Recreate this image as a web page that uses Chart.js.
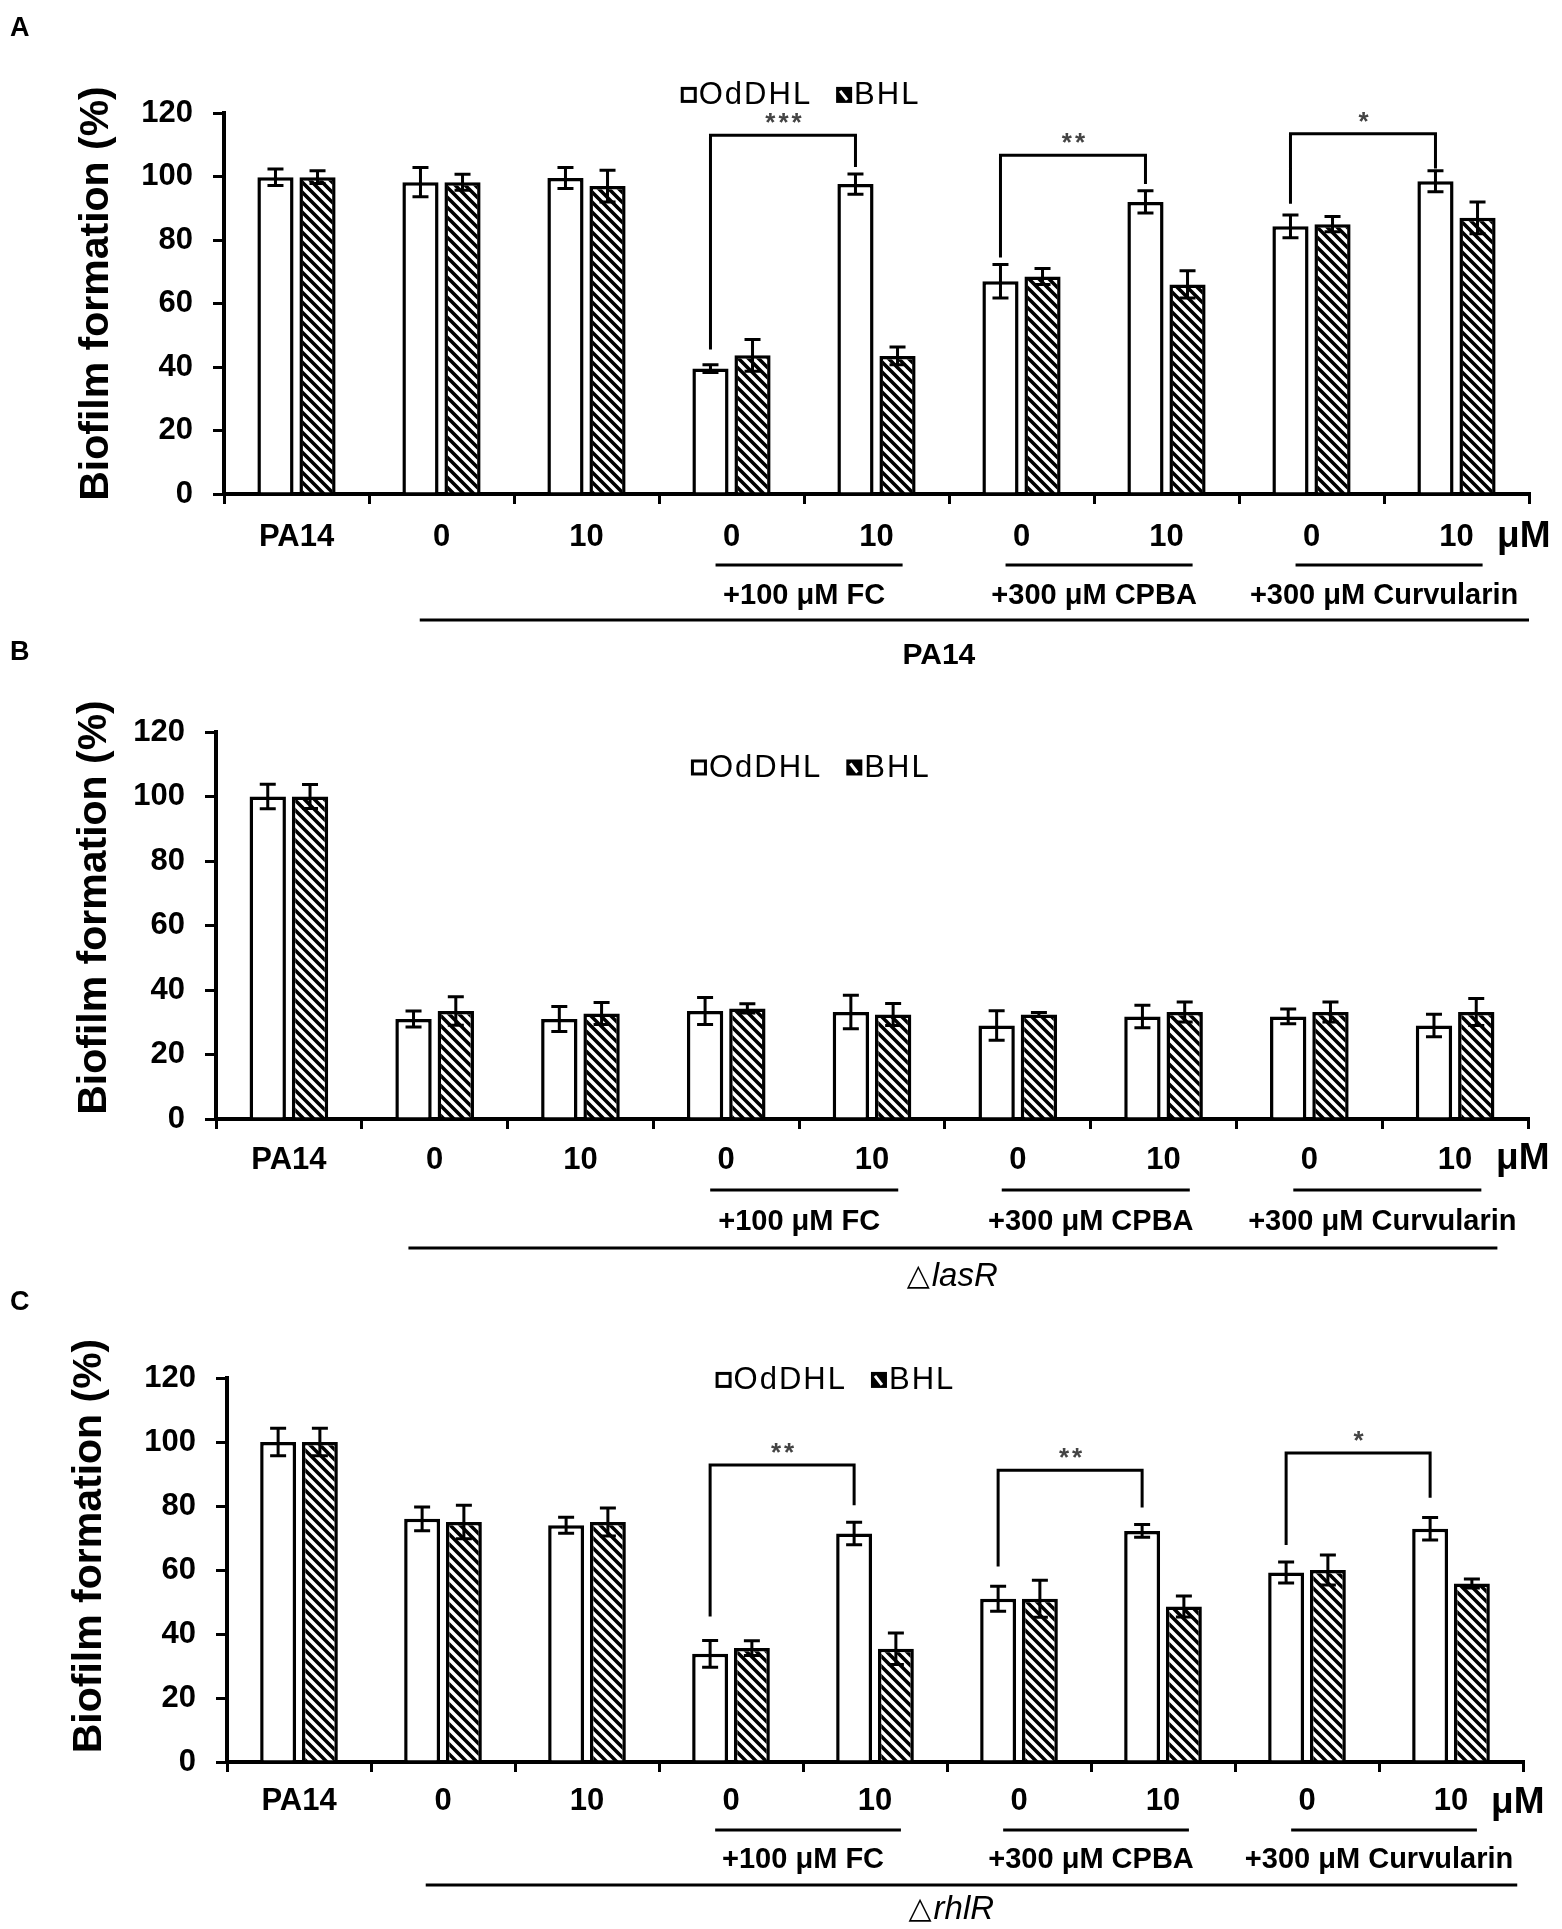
<!DOCTYPE html>
<html>
<head>
<meta charset="utf-8">
<script src="https://cdn.jsdelivr.net/npm/chart.js@4.4.1/dist/chart.umd.min.js"></script>
<style>
  body { margin: 0; background: #fff; }
  #wrap { position: relative; width: 1562px; height: 1929px; }
  .panel { position: absolute; left: 0; width: 1562px; }
</style>
</head>
<body>
<div id="wrap">
  <div class="panel" style="top:0px;height:690px"><canvas id="chartA"></canvas></div>
  <div class="panel" style="top:625px;height:675px"><canvas id="chartB"></canvas></div>
  <div class="panel" style="top:1265px;height:664px"><canvas id="chartC"></canvas></div>
</div>
<script>
// ---- data ----
const categories = ['PA14', '0', '10', '0', '10', '0', '10', '0', '10'];
const seriesNames = ['OdDHL', 'BHL'];

// A: PA14
const aOdDHL    = [99.8, 98.2, 99.5, 39.5, 97.6, 67.0, 92.0, 84.3, 98.5];
const aOdDHLErr = [2.6, 4.6, 3.3, 1.2, 3.2, 5.3, 3.5, 3.6, 3.3];
const aBHL      = [99.8, 98.2, 97.0, 43.7, 43.5, 68.5, 66.0, 85.0, 87.0];
const aBHLErr   = [2.0, 2.5, 5.0, 5.0, 2.8, 2.5, 4.3, 2.4, 5.0];

// B: delta lasR
const bOdDHL    = [100, 31.0, 31.0, 33.5, 33.2, 29.0, 31.8, 31.8, 29.0];
const bOdDHLErr = [3.8, 2.5, 3.9, 4.2, 5.2, 4.6, 3.5, 2.3, 3.5];
const bBHL      = [100, 33.5, 32.7, 34.3, 32.4, 32.4, 33.2, 33.2, 33.2];
const bBHLErr   = [3.7, 4.4, 3.4, 1.4, 3.4, 0.6, 3.1, 3.1, 4.2];

// C: delta rhlR
const cOdDHL    = [100, 76.0, 74.0, 33.8, 71.4, 51.0, 72.2, 59.2, 72.9];
const cOdDHLErr = [4.3, 3.7, 2.5, 4.2, 3.5, 3.9, 2.0, 3.3, 3.5];
const cBHL      = [100, 75.0, 75.0, 35.6, 35.4, 51.0, 48.6, 60.0, 55.8];
const cBHLErr   = [4.3, 5.2, 4.4, 2.3, 4.9, 5.8, 3.3, 4.7, 1.4];

// significance brackets: [from, to, bracket level, left end, right end, label]
const aSig = [[3, 4, 113, 45.5, 103, '***'], [5, 6, 106.7, 74.5, 97.6, '**'], [7, 8, 113.5, 91.4, 102.5, '*']];
const bSig = [];
const cSig = [[3, 4, 92.8, 45.5, 80.2, '**'], [5, 6, 91.2, 61.1, 79.5, '**'], [7, 8, 96.6, 67.8, 82.6, '*']];

const groupSpans  = [[3, 4], [5, 6], [7, 8]];
const groupLabels = ['+100 \u03BCM FC', '+300 \u03BCM CPBA', '+300 \u03BCM Curvularin'];
const yTicks = [0, 20, 40, 60, 80, 100, 120];

const FONT = "'Liberation Sans', Arial, Helvetica, sans-serif";

// layout of the three panels (pixels inside each canvas)
const panels = [
  { id: 'chartA', letter: 'A', letterY: 36, height: 690, axisLeft: 224, plotTop: 113, plotBottom: 494, plotRight: 1529,
    od: aOdDHL, odErr: aOdDHLErr, bh: aBHL, bhErr: aBHLErr, sig: aSig,
    strain: 'PA14', italic: false, tickPad: 15, legendFx: 0.35, legendV: 125.7,
    off: { sub: 71, subLabel: 102, long: 126, title: 162, unit: 43 }, longSpan: [0.85, 8.5], titleIdx: 4.43,
    yTitleX: 108, yTitleShift: -10 },
  { id: 'chartB', letter: 'B', letterY: 35, height: 675, axisLeft: 216, plotTop: 107, plotBottom: 494, plotRight: 1528,
    od: bOdDHL, odErr: bOdDHLErr, bh: bBHL, bhErr: bBHLErr, sig: bSig,
    strain: 'lasR', italic: true, tickPad: 13, legendFx: 0.362, legendV: 109,
    off: { sub: 71, subLabel: 103, long: 129, title: 158, unit: 40 }, longSpan: [0.82, 8.29], titleIdx: 4.55,
    yTitleX: 106, yTitleShift: -18 },
  { id: 'chartC', letter: 'C', letterY: 45, height: 664, axisLeft: 227, plotTop: 113, plotBottom: 497, plotRight: 1523,
    od: cOdDHL, odErr: cOdDHLErr, bh: cBHL, bhErr: cBHLErr, sig: cSig,
    strain: 'rhlR', italic: true, tickPad: 11, legendFx: 0.377, legendV: 119.4,
    off: { sub: 68, subLabel: 98, long: 123, title: 148, unit: 41 }, longSpan: [0.88, 8.46], titleIdx: 4.53,
    yTitleX: 101, yTitleShift: -24 }
];

function makeHatch(ctx) {
  const tile = document.createElement('canvas');
  tile.width = 10; tile.height = 10;
  const g = tile.getContext('2d');
  g.fillStyle = '#fff';
  g.fillRect(0, 0, 10, 10);
  g.strokeStyle = '#000';
  g.lineWidth = 3.6;
  g.beginPath();
  for (let k = -1; k <= 1; k++) {
    g.moveTo(k * 10 - 2, -2);
    g.lineTo(k * 10 + 12, 12);
  }
  g.stroke();
  return ctx.createPattern(tile, 'repeat');
}

function makeDecor(P) {
  return {
    id: 'decor' + P.letter,
    afterDatasetsDraw(chart) {
      // error bars
      const ctx = chart.ctx, ys = chart.scales.y;
      ctx.save();
      ctx.strokeStyle = '#000';
      ctx.lineWidth = 3;
      chart.data.datasets.forEach((ds, di) => {
        chart.getDatasetMeta(di).data.forEach((bar, i) => {
          const v = ds.data[i], e = ds.errors[i];
          const yt = ys.getPixelForValue(v + e), yb = ys.getPixelForValue(v - e);
          ctx.beginPath();
          ctx.moveTo(bar.x, yt); ctx.lineTo(bar.x, yb);
          ctx.moveTo(bar.x - 8, yt); ctx.lineTo(bar.x + 8, yt);
          ctx.moveTo(bar.x - 8, yb); ctx.lineTo(bar.x + 8, yb);
          ctx.stroke();
        });
      });
      ctx.restore();
    },
    afterDraw(chart) {
      const ctx = chart.ctx, xs = chart.scales.x, ys = chart.scales.y, ca = chart.chartArea;
      const y0 = ys.getPixelForValue(0);
      const barX = (di, i) => chart.getDatasetMeta(di).data[i].x;
      ctx.save();
      ctx.strokeStyle = '#000';
      ctx.fillStyle = '#000';
      ctx.lineWidth = 3;
      ctx.lineJoin = 'miter';

      // significance brackets
      P.sig.forEach(([a, b, lvl, ya, yb, lab]) => {
        const x1 = barX(0, a), x2 = barX(0, b), yl = ys.getPixelForValue(lvl);
        ctx.beginPath();
        ctx.moveTo(x1, ys.getPixelForValue(ya));
        ctx.lineTo(x1, yl);
        ctx.lineTo(x2, yl);
        ctx.lineTo(x2, ys.getPixelForValue(yb));
        ctx.stroke();
        ctx.save();
        ctx.fillStyle = '#444';
        ctx.font = 'bold 26px ' + FONT;
        ctx.letterSpacing = '3px';
        ctx.textAlign = 'center';
        ctx.textBaseline = 'middle';
        ctx.fillText(lab, (x1 + x2) / 2 + 2, yl - 11);
        ctx.restore();
      });

      // legend
      const lx = ca.left + P.legendFx * (ca.right - ca.left);
      const ly = ys.getPixelForValue(P.legendV);
      ctx.font = '31px ' + FONT;
      ctx.letterSpacing = '2px';
      ctx.textBaseline = 'middle';
      ctx.textAlign = 'left';
      ctx.lineWidth = 3;
      ctx.fillStyle = '#fff';
      ctx.fillRect(lx, ly - 8, 16, 16);
      ctx.strokeRect(lx + 1.5, ly - 6.5, 13, 13);
      ctx.fillStyle = '#000';
      ctx.fillText(seriesNames[0], lx + 18, ly + 1);
      const bx = lx + 18 + ctx.measureText(seriesNames[0]).width + 24;
      ctx.fillRect(bx, ly - 8, 16, 16);
      ctx.strokeStyle = '#fff';
      ctx.lineWidth = 3;
      ctx.beginPath();
      ctx.moveTo(bx + 4, ly - 4); ctx.lineTo(bx + 11, ly + 5);
      ctx.stroke();
      ctx.strokeStyle = '#000';
      ctx.fillText(seriesNames[1], bx + 18, ly + 1);
      ctx.letterSpacing = '0px';

      // treatment underlines and labels
      ctx.lineWidth = 3;
      groupSpans.forEach(([a, b], k) => {
        const xa = xs.getPixelForValue(a - 0.11), xb = xs.getPixelForValue(b + 0.18);
        ctx.beginPath();
        ctx.moveTo(xa, y0 + P.off.sub); ctx.lineTo(xb, y0 + P.off.sub);
        ctx.stroke();
        ctx.font = 'bold 29px ' + FONT;
        ctx.textAlign = 'center';
        ctx.fillText(groupLabels[k], (xa + xb) / 2 - 5, y0 + P.off.subLabel);
      });

      // strain underline and name
      ctx.beginPath();
      ctx.moveTo(xs.getPixelForValue(P.longSpan[0]), y0 + P.off.long);
      ctx.lineTo(xs.getPixelForValue(P.longSpan[1]), y0 + P.off.long);
      ctx.stroke();
      const tx = xs.getPixelForValue(P.titleIdx), ty = y0 + P.off.title;
      if (P.italic) {
        ctx.font = "30px 'DejaVu Sans', sans-serif";
        const w1 = ctx.measureText('\u25B3').width;
        ctx.font = 'italic 33px ' + FONT;
        const w2 = ctx.measureText(P.strain).width;
        const sx = tx - (w1 + w2 + 2) / 2;
        ctx.textAlign = 'left';
        ctx.font = "30px 'DejaVu Sans', sans-serif";
        ctx.fillText('\u25B3', sx, ty);
        ctx.font = 'italic 33px ' + FONT;
        ctx.fillText(P.strain, sx + w1 + 2, ty);
      } else {
        ctx.font = 'bold 30px ' + FONT;
        ctx.textAlign = 'center';
        ctx.fillText(P.strain, tx, ty);
      }

      // unit at the right end of the axis
      ctx.font = 'bold 37px ' + FONT;
      ctx.textAlign = 'left';
      ctx.fillText('\u03BCM', ca.right - 32, y0 + P.off.unit);

      // panel letter
      ctx.font = 'bold 27px ' + FONT;
      ctx.textBaseline = 'alphabetic';
      ctx.fillText(P.letter, 10, P.letterY);

      // y axis title
      ctx.translate(P.yTitleX, (ca.top + ca.bottom) / 2 + P.yTitleShift);
      ctx.rotate(-Math.PI / 2);
      ctx.font = 'bold 41px ' + FONT;
      ctx.textAlign = 'center';
      ctx.fillText('Biofilm formation (%)', 0, 0);
      ctx.restore();
    }
  };
}

function drawPanel(P) {
  const canvas = document.getElementById(P.id);
  const hatch = makeHatch(canvas.getContext('2d'));
  new Chart(canvas, {
    type: 'bar',
    data: {
      labels: categories,
      datasets: [{
        label: seriesNames[0],
        data: P.od,
        errors: P.odErr,
        backgroundColor: '#fff',
        borderColor: '#000',
        borderWidth: 3.5
      }, {
        label: seriesNames[1],
        data: P.bh,
        errors: P.bhErr,
        backgroundColor: hatch,
        borderColor: '#000',
        borderWidth: 3.5
      }]
    },
    options: {
      responsive: true,
      maintainAspectRatio: false,
      animation: false,
      events: [],
      categoryPercentage: 0.58,
      barPercentage: 0.86,
      layout: { padding: { top: P.plotTop, right: 1562 - P.plotRight, left: 0, bottom: 0 } },
      plugins: { legend: { display: false }, tooltip: { enabled: false } },
      scales: {
        x: {
          grid: { display: true, drawOnChartArea: false, drawTicks: true, tickLength: 10, lineWidth: 3, color: '#000', offset: true },
          border: { display: true, color: '#000', width: 4 },
          ticks: { color: '#000', padding: P.tickPad, font: { family: FONT, size: 31, weight: 'bold' }, maxRotation: 0 },
          afterFit: s => { s.height = P.height - P.plotBottom; }
        },
        y: {
          min: 0,
          max: 120,
          afterBuildTicks: s => { s.ticks = yTicks.map(v => ({ value: v })); },
          grid: { display: true, drawOnChartArea: false, drawTicks: true, tickLength: 11, lineWidth: 3, color: '#000' },
          border: { display: true, color: '#000', width: 4 },
          ticks: { color: '#000', padding: 20, font: { family: FONT, size: 31, weight: 'bold' } },
          afterFit: s => { s.width = P.axisLeft; }
        }
      }
    },
    plugins: [makeDecor(P)]
  });
}

panels.forEach(drawPanel);
</script>
</body>
</html>
